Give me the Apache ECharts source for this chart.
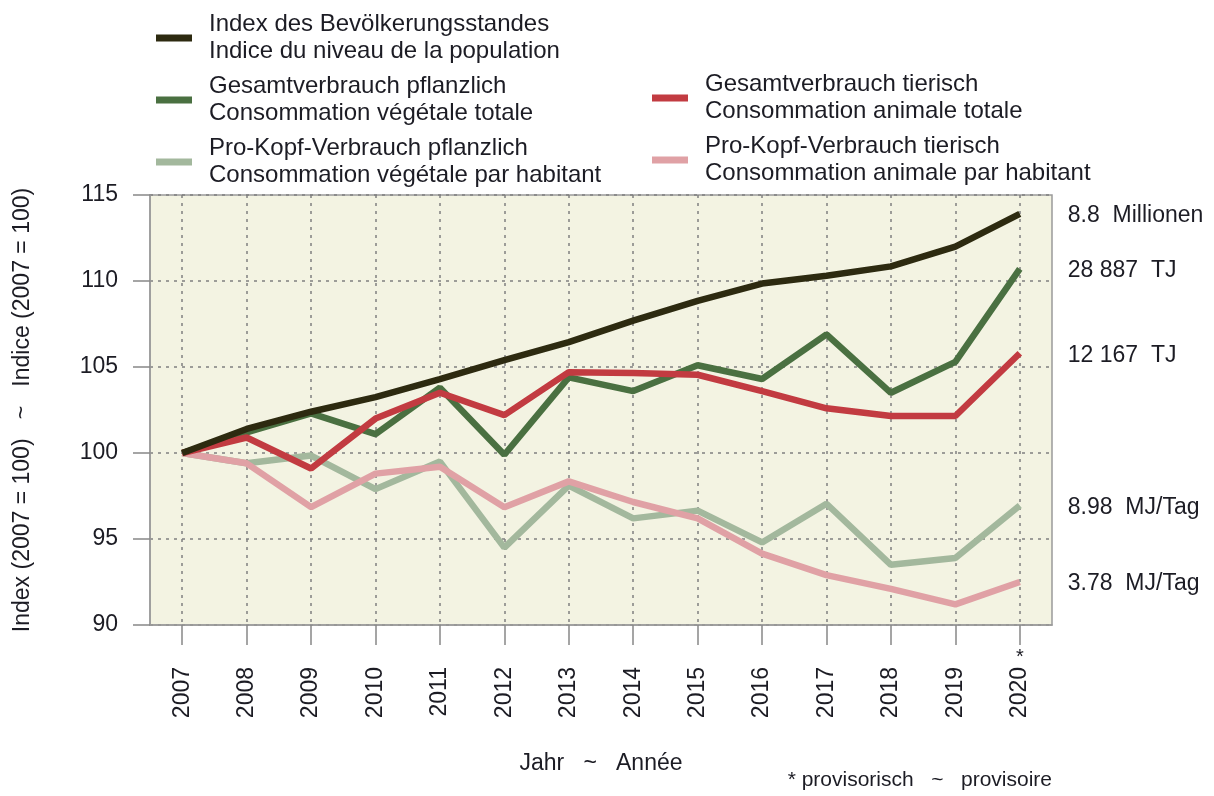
<!DOCTYPE html>
<html>
<head>
<meta charset="utf-8">
<script src="https://cdn.jsdelivr.net/npm/echarts@6/dist/echarts.min.js"></script>
<style>
  html, body { margin: 0; padding: 0; background: #fff; }
  #chart { width: 1214px; height: 796px; }
</style>
</head>
<body>
<div id="chart"></div>
<script>
// Jahre ~ années
const years = ['2007', '2008', '2009', '2010', '2011', '2012', '2013', '2014', '2015', '2016', '2017', '2018', '2019', '2020'];
const provisionalYear = '2020';

// Indexwerte (2007 = 100)
const popIndex      = [100, 101.4, 102.4, 103.25, 104.3, 105.4, 106.45, 107.7, 108.85, 109.85, 110.3, 110.85, 112.0, 113.9];
const plantTotal    = [100, 101.2, 102.3, 101.1, 103.8, 99.9, 104.4, 103.6, 105.1, 104.3, 106.9, 103.5, 105.3, 110.7];
const animalTotal   = [100, 100.9, 99.1, 102.0, 103.5, 102.2, 104.7, 104.65, 104.55, 103.6, 102.6, 102.15, 102.15, 105.8];
const plantPerHead  = [100, 99.4, 99.85, 97.9, 99.5, 94.5, 98.1, 96.2, 96.65, 94.8, 97.05, 93.5, 93.9, 96.95];
const animalPerHead = [100, 99.4, 96.85, 98.8, 99.2, 96.85, 98.35, 97.15, 96.2, 94.15, 92.9, 92.1, 91.2, 92.5];

// Werte 2020 am rechten Rand
const endTexts = {
  pop: '8.8  Millionen',
  plantTotal: '28 887  TJ',
  animalTotal: '12 167  TJ',
  plantPerHead: '8.98  MJ/Tag',
  animalPerHead: '3.78  MJ/Tag'
};

const names = {
  pop: 'Index des Bevölkerungsstandes\nIndice du niveau de la population',
  plantTotal: 'Gesamtverbrauch pflanzlich\nConsommation végétale totale',
  animalTotal: 'Gesamtverbrauch tierisch\nConsommation animale totale',
  plantPerHead: 'Pro-Kopf-Verbrauch pflanzlich\nConsommation végétale par habitant',
  animalPerHead: 'Pro-Kopf-Verbrauch tierisch\nConsommation animale par habitant'
};

const font = 'Liberation Sans, Arial, sans-serif';
const textColor = '#1c1c24';

const myChart = echarts.init(document.getElementById('chart'));

function lineSeries(key, data, color, width) {
  return {
    name: names[key],
    type: 'line',
    data: data,
    symbol: 'none',
    lineStyle: { color: color, width: width },
    itemStyle: { color: color },
    emphasis: { disabled: true },
    endLabel: {
      show: true,
      formatter: endTexts[key],
      distance: 48,
      offset: [0, 2],
      color: textColor,
      fontSize: 23,
      fontFamily: font
    }
  };
}

const legendCommon = {
  orient: 'vertical',
  icon: 'rect',
  itemWidth: 36,
  itemHeight: 7,
  itemGap: 8,
  selectedMode: false,
  textStyle: {
    fontSize: 24,
    lineHeight: 27,
    color: textColor,
    fontFamily: font,
    padding: [0, 0, 0, 12]
  }
};

const option = {
  animation: false,
  backgroundColor: '#fff',
  title: {
    text: '* provisorisch   ~   provisoire',
    right: 157,
    bottom: 0,
    textStyle: { fontSize: 21, fontWeight: 'normal', color: textColor, fontFamily: font }
  },
  legend: [
    Object.assign({}, legendCommon, {
      left: 151, top: 6,
      data: [names.pop, names.plantTotal, names.plantPerHead]
    }),
    Object.assign({}, legendCommon, {
      left: 647, top: 66,
      data: [names.animalTotal, names.animalPerHead]
    })
  ],
  grid: {
    left: 150, right: 162, top: 195, bottom: 171,
    show: true,
    backgroundColor: '#f3f3e2',
    borderColor: '#9a9a9a',
    borderWidth: 1.5
  },
  xAxis: [{
    type: 'category',
    data: years,
    boundaryGap: true,
    name: 'Jahr   ~   Année',
    nameLocation: 'middle',
    nameGap: 127,
    nameTextStyle: { fontSize: 23, color: textColor, fontFamily: font },
    axisLine: { show: true, lineStyle: { color: '#9a9a9a', width: 1.5 } },
    axisTick: { show: true, alignWithLabel: true, length: 20, lineStyle: { color: '#888', width: 1.5 } },
    axisLabel: { rotate: 90, margin: 42, fontSize: 23, color: textColor, fontFamily: font },
    splitLine: {
      show: true, alignWithLabel: true,
      lineStyle: { color: '#808080', type: [3, 5], width: 1.5 }
    }
  }, {
    // Stern für provisorisches Jahr
    type: 'category',
    data: years,
    position: 'bottom',
    boundaryGap: true,
    axisLine: { show: false },
    axisTick: { show: false },
    splitLine: { show: false },
    axisLabel: {
      interval: 0,
      margin: 22,
      fontSize: 20,
      color: textColor,
      fontFamily: font,
      formatter: function (v) { return v === provisionalYear ? '*' : ''; }
    }
  }],
  yAxis: {
    type: 'value',
    min: 90,
    max: 115,
    interval: 5,
    name: 'Index (2007 = 100)   ~   Indice (2007 = 100)',
    nameLocation: 'middle',
    nameGap: 116,
    nameTextStyle: { fontSize: 23, color: textColor, fontFamily: font },
    axisLine: { show: true, lineStyle: { color: '#9a9a9a', width: 1.5 } },
    axisTick: { show: true, length: 17, lineStyle: { color: '#888', width: 1.5 } },
    axisLabel: { margin: 32, fontSize: 23, color: textColor, fontFamily: font },
    splitLine: { show: true, lineStyle: { color: '#808080', type: [3, 5], width: 1.5 } }
  },
  series: [
    lineSeries('plantPerHead', plantPerHead, '#a3b89d', 6.5),
    lineSeries('animalPerHead', animalPerHead, '#e0a1a5', 6.5),
    lineSeries('plantTotal', plantTotal, '#4a7041', 6.5),
    lineSeries('animalTotal', animalTotal, '#c23b41', 6.5),
    lineSeries('pop', popIndex, '#2d2a10', 6.5)
  ]
};

myChart.setOption(option);
</script>
</body>
</html>
